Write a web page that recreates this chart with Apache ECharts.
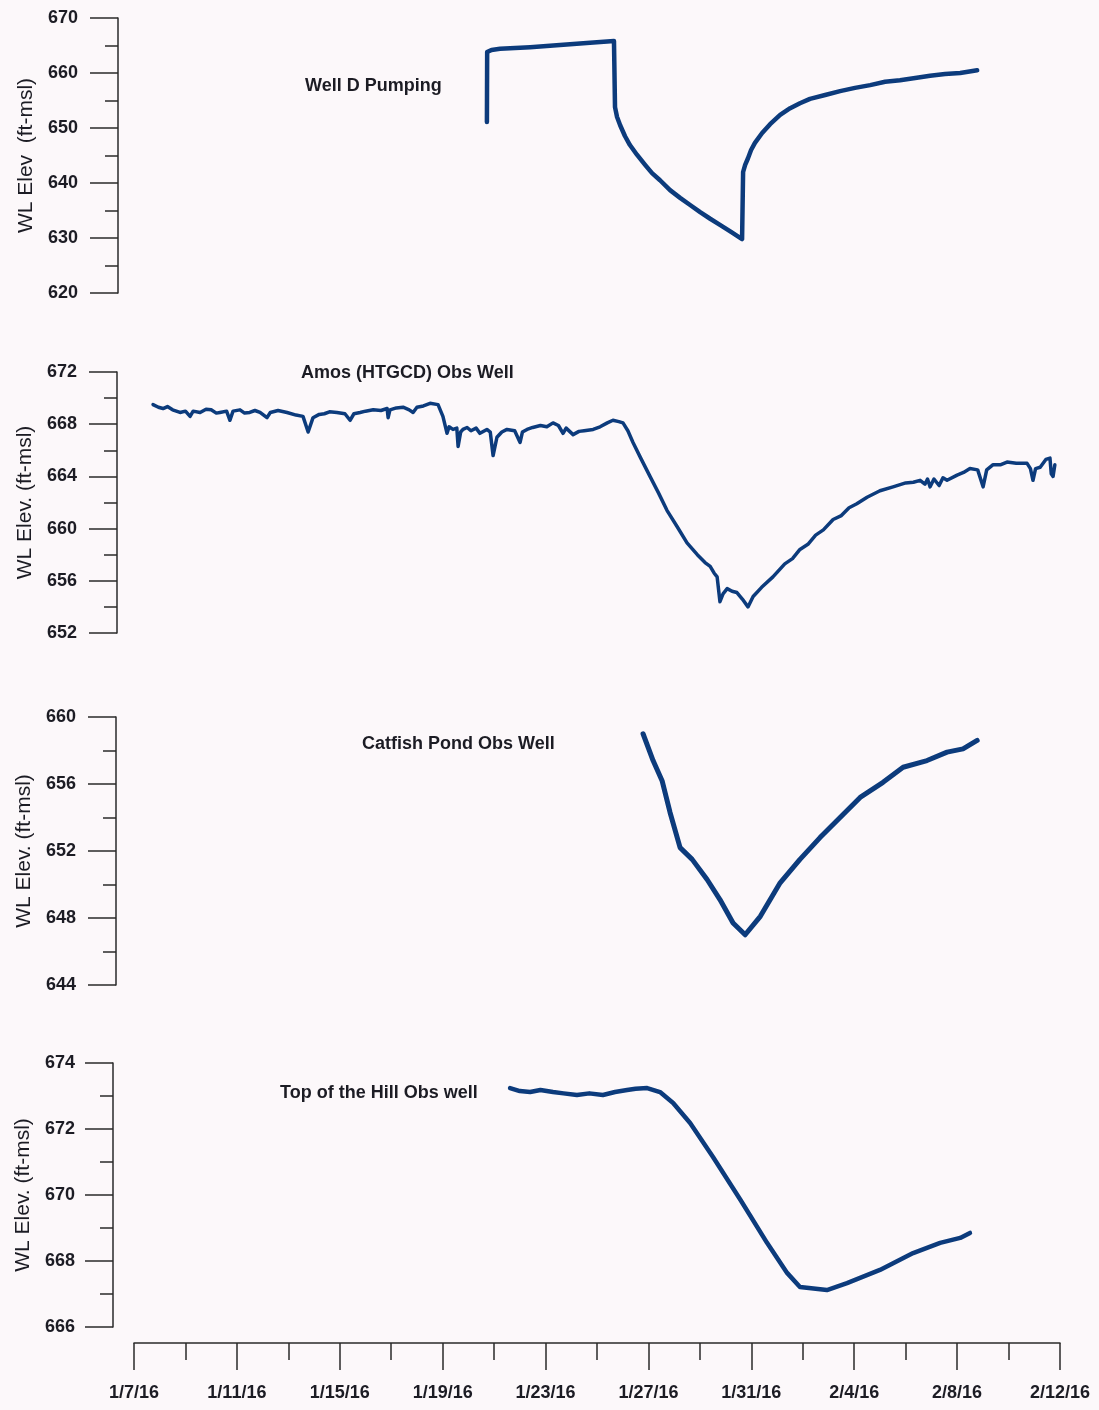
<!DOCTYPE html>
<html><head><meta charset="utf-8">
<script src="https://cdn.jsdelivr.net/npm/echarts@6/dist/echarts.min.js"></script>
<style>html,body{margin:0;padding:0;background:#fcf8fa}#c{width:1099px;height:1410px}</style>
</head><body><div id="c"></div>
<script>
// x = days since 1/7/16
const xTickLabels = ['1/7/16','1/11/16','1/15/16','1/19/16','1/23/16','1/27/16','1/31/16','2/4/16','2/8/16','2/12/16'];
const panelTitles = ['Well D Pumping','Amos (HTGCD) Obs Well','Catfish Pond Obs Well','Top of the Hill Obs well'];
const yNames = ['WL Elev  (ft-msl)','WL Elev. (ft-msl)','WL Elev. (ft-msl)','WL Elev. (ft-msl)'];
const yMin = [620, 652, 644, 666];
const yMax = [670, 672, 660, 674];
const yStep = [10, 4, 4, 2];

const wellD = [[13.72,651.1],[13.73,663.8],[13.9,664.2],[14.23,664.4],[15.40,664.7],[16.56,665.1],[17.73,665.5],[18.66,665.8],
  [18.70,653.8],[18.78,652.0],[18.90,650.5],[19.09,648.5],[19.28,646.9],[19.56,645.1],[19.87,643.3],[20.14,641.8],[20.45,640.5],[20.84,638.7],[21.23,637.3],[21.62,636.0],[22.01,634.7],[22.40,633.5],[22.78,632.4],[23.21,631.1],[23.64,629.8],
  [23.68,642.0],[23.76,643.3],[23.87,644.5],[23.99,646.0],[24.14,647.3],[24.42,649.1],[24.73,650.7],[25.12,652.4],[25.51,653.6],[25.89,654.5],[26.28,655.3],[26.87,656.0],[27.45,656.7],[28.03,657.3],[28.62,657.8],[29.20,658.4],[29.78,658.7],[30.37,659.1],[30.95,659.5],[31.53,659.8],[32.12,660.0],[32.78,660.5]];

const amos = [[0.74,669.5],[0.95,669.3],[1.13,669.2],[1.3,669.35],[1.5,669.1],[1.79,668.9],[2.0,669.0],[2.18,668.6],[2.3,669.0],[2.57,668.9],[2.8,669.15],[3.0,669.1],[3.2,668.85],[3.34,668.9],[3.6,669.0],[3.73,668.3],[3.85,669.0],[4.12,669.1],[4.3,668.85],[4.5,668.9],[4.7,669.05],[4.9,668.9],[5.17,668.5],[5.3,668.9],[5.6,669.05],[5.95,668.9],[6.3,668.7],[6.57,668.6],[6.77,667.4],[6.96,668.5],[7.2,668.75],[7.4,668.8],[7.6,668.95],[7.89,668.9],[8.2,668.8],[8.40,668.3],[8.55,668.8],[8.79,668.9],[9.0,669.0],[9.3,669.1],[9.6,669.05],[9.84,669.2],[9.88,668.5],[9.95,669.1],[10.2,669.25],[10.46,669.3],[10.7,669.1],[10.85,668.9],[11.0,669.3],[11.25,669.4],[11.51,669.6],[11.82,669.5],[12.01,668.6],[12.17,667.3],[12.25,667.8],[12.40,667.6],[12.55,667.7],[12.60,666.3],[12.7,667.4],[12.79,667.6],[12.95,667.75],[13.1,667.5],[13.3,667.7],[13.45,667.3],[13.72,667.6],[13.85,667.4],[13.96,665.6],[14.11,667.0],[14.3,667.4],[14.50,667.6],[14.8,667.5],[15.01,666.6],[15.1,667.4],[15.28,667.6],[15.5,667.75],[15.8,667.9],[16.05,667.8],[16.29,668.1],[16.5,667.9],[16.68,667.3],[16.8,667.7],[17.07,667.2],[17.3,667.45],[17.5,667.5],[17.85,667.6],[18.12,667.8],[18.4,668.1],[18.62,668.3],[18.85,668.2],[19.01,668.1],[19.2,667.5],[19.40,666.6],[19.7,665.4],[20.06,664.0],[20.4,662.7],[20.72,661.4],[21.1,660.2],[21.50,658.9],[21.9,658.0],[22.2,657.4],[22.40,657.1],[22.55,656.6],[22.67,656.3],[22.78,654.4],[22.9,655.0],[23.06,655.4],[23.25,655.2],[23.44,655.1],[23.65,654.6],[23.87,654.0],[24.07,654.8],[24.4,655.5],[24.84,656.3],[25.3,657.3],[25.6,657.7],[25.89,658.4],[26.2,658.8],[26.5,659.5],[26.8,659.9],[27.18,660.7],[27.5,661.0],[27.8,661.6],[28.1,661.9],[28.50,662.4],[29.0,662.9],[29.51,663.2],[30.0,663.5],[30.3,663.55],[30.56,663.7],[30.75,663.4],[30.85,663.8],[30.95,663.2],[31.1,663.8],[31.3,663.3],[31.45,663.9],[31.61,663.7],[32.0,664.1],[32.25,664.3],[32.50,664.6],[32.8,664.5],[33.01,663.2],[33.15,664.5],[33.40,664.9],[33.7,664.9],[33.94,665.1],[34.3,665.0],[34.72,665.0],[34.85,664.6],[34.95,663.7],[35.05,664.6],[35.23,664.7],[35.45,665.3],[35.61,665.4],[35.66,664.2],[35.73,664.0],[35.8,664.9]];

const catfish = [[19.79,659.0],[20.18,657.4],[20.53,656.2],[20.84,654.3],[21.23,652.2],[21.70,651.5],[22.28,650.3],[22.78,649.1],[23.29,647.7],[23.76,647.0],[24.35,648.1],[25.12,650.1],[25.89,651.5],[26.67,652.8],[27.45,654.0],[28.23,655.2],[29.12,656.1],[29.90,657.0],[30.83,657.4],[31.61,657.9],[32.23,658.1],[32.78,658.6]];

const topHill = [[14.62,673.24],[15.0,673.15],[15.40,673.12],[15.8,673.18],[16.29,673.12],[16.7,673.08],[17.22,673.03],[17.7,673.08],[18.23,673.03],[18.7,673.12],[19.17,673.18],[19.5,673.22],[19.95,673.24],[20.45,673.12],[20.96,672.79],[21.62,672.18],[22.51,671.15],[23.58,669.85],[24.61,668.55],[25.39,667.64],[25.89,667.21],[26.94,667.12],[27.72,667.33],[29.00,667.73],[30.29,668.24],[31.34,668.55],[32.12,668.70],[32.50,668.85]];

const seriesData = [wellD, amos, catfish, topHill];
const lineWidths = [4.5, 3.5, 5, 4.5];

const gridTops = [18, 372, 717, 1063];
const gridHeights = [275, 261, 268, 264];
const axisOffsets = [16, 17, 18, 21];
const labelMargins = [40, 40, 40, 38];
const nameGaps = [78, 77, 78, 76];
const titlePos = [[305,87],[301,374],[362,745],[280,1094]];

const LINE = '#0c3b7c';
const AX = '#2a2a2a';
const FONT = '"Liberation Sans", Arial, sans-serif';

const grid = [], xAxis = [], yAxis = [], series = [], graphic = [];
for (let i = 0; i < 4; i++) {
  grid.push({left: 134, right: 39, top: gridTops[i], height: gridHeights[i]});
  xAxis.push({type: 'value', gridIndex: i, min: 0, max: 36, show: false});
  yAxis.push({
    type: 'value', gridIndex: i, min: yMin[i], max: yMax[i], interval: yStep[i],
    position: 'left', offset: axisOffsets[i],
    name: yNames[i], nameLocation: 'middle', nameGap: nameGaps[i],
    nameTextStyle: {fontFamily: FONT, fontSize: 21, color: '#1c1c24'},
    axisLine: {show: true, onZero: false, lineStyle: {color: AX, width: 1.5}},
    axisTick: {show: true, length: 28, lineStyle: {color: AX, width: 1.5}},
    minorTick: {show: true, splitNumber: 2, length: 13, lineStyle: {color: AX, width: 1.5}},
    splitLine: {show: false}, minorSplitLine: {show: false},
    axisLabel: {margin: labelMargins[i], fontFamily: FONT, fontSize: 18, fontWeight: 'bold', color: '#1c1c24'}
  });
  series.push({
    type: 'line', xAxisIndex: i, yAxisIndex: i, data: seriesData[i],
    showSymbol: false, symbol: 'none', smooth: false,
    lineStyle: {color: LINE, width: lineWidths[i], join: 'round', cap: 'round'}
  });
  graphic.push({
    type: 'text', left: titlePos[i][0], top: titlePos[i][1] - 10,
    style: {text: panelTitles[i], font: 'bold 18px ' + FONT, fill: '#1c1c24'}
  });
}
// bottom shared date axis
grid.push({left: 134, right: 39, top: 1342, height: 1});
xAxis.push({
  type: 'value', gridIndex: 4, min: 0, max: 36, interval: 4, position: 'bottom',
  axisLine: {show: true, onZero: false, lineStyle: {color: AX, width: 1.5}},
  axisTick: {show: true, length: 27, lineStyle: {color: AX, width: 1.5}},
  minorTick: {show: true, splitNumber: 2, length: 17, lineStyle: {color: AX, width: 1.5}},
  splitLine: {show: false}, minorSplitLine: {show: false},
  axisLabel: {margin: 41, fontFamily: FONT, fontSize: 18, fontWeight: 'bold', color: '#1c1c24',
    formatter: v => xTickLabels[Math.round(v / 4)]}
});
yAxis.push({type: 'value', gridIndex: 4, min: 0, max: 1, show: false});

const chart = echarts.init(document.getElementById('c'), null, {renderer: 'canvas'});
chart.setOption({
  backgroundColor: '#fcf8fa',
  animation: false,
  grid, xAxis, yAxis, series, graphic
});
</script></body></html>
